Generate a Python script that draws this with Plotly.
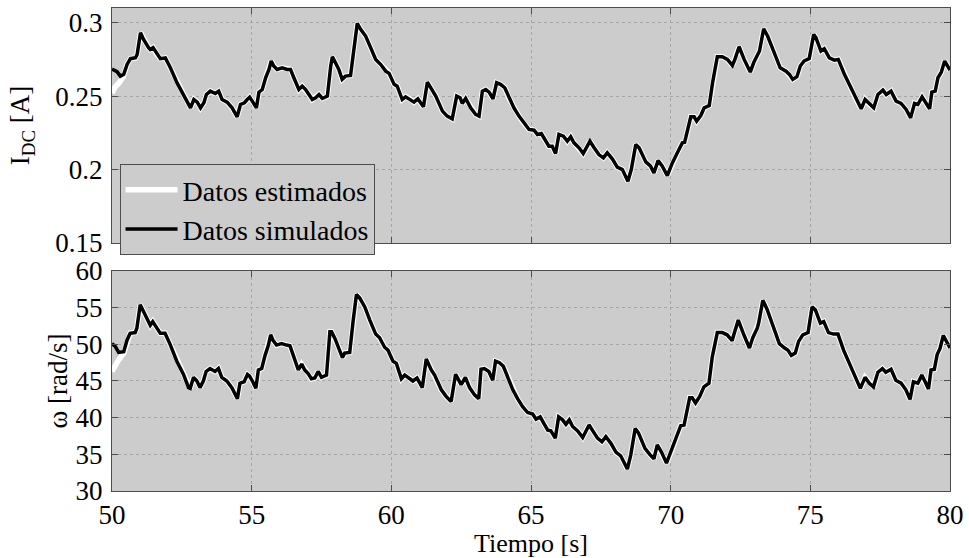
import plotly.graph_objects as go

# ---------------- data ----------------
# Top panel: DC current I_DC [A], simulated
t_top = [50.0, 50.18, 50.3, 50.42, 50.54, 50.66, 50.84, 50.9, 51.02, 51.13, 51.31, 51.37, 51.47, 51.61,
         51.73, 51.91, 52.09, 52.33, 52.57, 52.75, 52.81, 52.93, 53.05, 53.17, 53.29, 53.38, 53.52,
         53.7, 53.82, 53.94, 54.12, 54.3, 54.48, 54.6, 54.74, 54.84, 54.93, 55.02, 55.17, 55.26,
         55.38, 55.5, 55.62, 55.7, 55.79, 55.91, 56.09, 56.27, 56.39, 56.51, 56.69, 56.81, 56.93,
         57.05, 57.17, 57.29, 57.41, 57.53, 57.71, 57.83, 57.89, 58.0, 58.12, 58.24, 58.36, 58.54,
         58.66, 58.78, 58.9, 59.08, 59.26, 59.44, 59.62, 59.8, 59.92, 60.1, 60.21, 60.39, 60.51,
         60.69, 60.81, 60.95, 61.15, 61.29, 61.47, 61.59, 61.83, 62.0, 62.18, 62.34, 62.46, 62.54,
         62.66, 62.84, 63.02, 63.14, 63.26, 63.38, 63.5, 63.64, 63.77, 63.91, 64.06, 64.21, 64.39,
         64.57, 64.75, 64.93, 65.11, 65.23, 65.37, 65.53, 65.64, 65.76, 65.88, 66.0, 66.16, 66.3,
         66.42, 66.54, 66.72, 66.87, 66.99, 67.11, 67.26, 67.43, 67.59, 67.73, 67.91, 68.09, 68.27,
         68.47, 68.59, 68.75, 68.87, 69.11, 69.28, 69.4, 69.55, 69.7, 69.88, 70.06, 70.24, 70.42,
         70.5, 70.6, 70.72, 70.84, 70.93, 71.08, 71.2, 71.38, 71.5, 71.67, 71.85, 72.03, 72.21, 72.3,
         72.45, 72.63, 72.85, 72.97, 73.11, 73.18, 73.33, 73.47, 73.71, 73.92, 74.13, 74.25, 74.37,
         74.52, 74.64, 74.78, 74.96, 75.12, 75.2, 75.38, 75.5, 75.68, 75.86, 76.0, 76.22, 76.46,
         76.64, 76.82, 76.96, 77.12, 77.27, 77.42, 77.6, 77.72, 77.89, 78.07, 78.25, 78.43, 78.59,
         78.73, 78.85, 79.0, 79.15, 79.27, 79.35, 79.47, 79.57, 79.69, 79.81, 79.9, 80.0]
i_sim = [0.2685, 0.2667, 0.2636, 0.2648, 0.2716, 0.2755, 0.2761, 0.2784, 0.2932, 0.2886, 0.283, 0.2818,
         0.283, 0.2784, 0.2755, 0.276, 0.2693, 0.259, 0.25, 0.2436, 0.242, 0.2477, 0.2459, 0.242,
         0.2455, 0.2511, 0.2534, 0.2518, 0.2534, 0.2477, 0.2459, 0.242, 0.2359, 0.2443, 0.2455,
         0.2477, 0.2493, 0.2466, 0.242, 0.2527, 0.2545, 0.2625, 0.2682, 0.2739, 0.2705, 0.2682,
         0.2693, 0.2682, 0.2682, 0.2625, 0.2545, 0.2568, 0.2545, 0.2511, 0.2477, 0.2489, 0.2511,
         0.2484, 0.25, 0.2705, 0.2768, 0.2727, 0.2682, 0.2614, 0.2636, 0.2641, 0.2841, 0.2995,
         0.2955, 0.2909, 0.283, 0.275, 0.2715, 0.267, 0.2655, 0.258, 0.2568, 0.2477, 0.2495, 0.2477,
         0.2459, 0.2482, 0.2427, 0.2595, 0.2534, 0.25, 0.2398, 0.2364, 0.2345, 0.25, 0.2489, 0.245,
         0.2484, 0.242, 0.2375, 0.2364, 0.2534, 0.2545, 0.2527, 0.2482, 0.2591, 0.258, 0.2557,
         0.2489, 0.242, 0.2364, 0.2314, 0.2273, 0.2268, 0.2239, 0.2245, 0.2193, 0.2159, 0.2159,
         0.2109, 0.2239, 0.2227, 0.2193, 0.2223, 0.2182, 0.2148, 0.2109, 0.2148, 0.2193, 0.2148,
         0.2102, 0.208, 0.2114, 0.2073, 0.2016, 0.2, 0.192, 0.2, 0.217, 0.2148, 0.2052, 0.2023,
         0.1977, 0.2061, 0.2023, 0.1959, 0.2045, 0.2114, 0.2182, 0.2186, 0.2261, 0.2359, 0.2359,
         0.233, 0.2368, 0.242, 0.2436, 0.2591, 0.2768, 0.2768, 0.275, 0.2709, 0.275, 0.2836, 0.275,
         0.2664, 0.2727, 0.2773, 0.2807, 0.2959, 0.2909, 0.2795, 0.2693, 0.267, 0.2648, 0.2614,
         0.2632, 0.2705, 0.2739, 0.2755, 0.292, 0.2898, 0.2807, 0.2823, 0.2761, 0.2745, 0.275,
         0.2648, 0.255, 0.2477, 0.2414, 0.2477, 0.2443, 0.242, 0.2511, 0.2541, 0.2511, 0.2534,
         0.2466, 0.245, 0.2409, 0.2352, 0.245, 0.2443, 0.2495, 0.2455, 0.2414, 0.2527, 0.2534,
         0.2625, 0.2664, 0.2739, 0.2709, 0.2677]
# Estimated I_DC: start-up transient, then it lies on the simulated curve
t_top_est_start = [50.0, 50.1, 50.25, 50.4]
i_est_start = [0.252, 0.256, 0.259, 0.263]

# Bottom panel: angular speed omega [rad/s], simulated
t_bot = [50.0, 50.12, 50.24, 50.42, 50.54, 50.65, 50.83, 50.89, 51.01, 51.13, 51.31, 51.37, 51.46, 51.61,
         51.73, 51.9, 52.08, 52.32, 52.56, 52.74, 52.8, 52.92, 53.04, 53.15, 53.27, 53.37, 53.51,
         53.69, 53.81, 53.93, 54.11, 54.29, 54.49, 54.58, 54.73, 54.85, 54.92, 55.04, 55.15, 55.24,
         55.36, 55.48, 55.6, 55.68, 55.77, 55.89, 56.07, 56.25, 56.37, 56.49, 56.67, 56.79, 56.9,
         57.02, 57.14, 57.26, 57.38, 57.5, 57.68, 57.8, 57.86, 57.98, 58.1, 58.25, 58.33, 58.51,
         58.63, 58.75, 58.87, 59.05, 59.23, 59.44, 59.58, 59.76, 59.88, 60.06, 60.18, 60.36, 60.48,
         60.65, 60.77, 60.92, 61.11, 61.25, 61.43, 61.55, 61.79, 61.96, 62.14, 62.3, 62.42, 62.5,
         62.65, 62.8, 62.98, 63.13, 63.21, 63.33, 63.49, 63.63, 63.73, 63.87, 64.01, 64.17, 64.35,
         64.52, 64.7, 64.88, 65.06, 65.18, 65.33, 65.48, 65.6, 65.71, 65.87, 65.99, 66.13, 66.25,
         66.37, 66.49, 66.67, 66.85, 66.96, 67.08, 67.23, 67.38, 67.54, 67.68, 67.86, 68.04, 68.21,
         68.45, 68.57, 68.73, 68.85, 69.08, 69.25, 69.4, 69.52, 69.67, 69.85, 70.04, 70.18, 70.36,
         70.48, 70.56, 70.68, 70.77, 70.89, 71.04, 71.19, 71.37, 71.49, 71.67, 71.85, 72.02, 72.2,
         72.26, 72.42, 72.62, 72.82, 72.94, 73.1, 73.15, 73.3, 73.45, 73.69, 73.89, 74.08, 74.2,
         74.32, 74.46, 74.58, 74.73, 74.92, 75.06, 75.18, 75.36, 75.48, 75.65, 75.83, 75.99, 76.19,
         76.43, 76.61, 76.79, 76.96, 77.11, 77.26, 77.42, 77.58, 77.7, 77.89, 78.06, 78.25, 78.42,
         78.57, 78.69, 78.85, 78.99, 79.11, 79.23, 79.32, 79.44, 79.54, 79.64, 79.76, 79.88, 80.0]
w_sim = [50.1, 49.7, 48.9, 49.0, 50.6, 51.5, 51.6, 52.2, 55.4, 54.5, 53.1, 52.6, 53.1, 52.1, 51.5, 51.5,
         50.0, 47.7, 45.9, 44.1, 44.0, 45.5, 45.0, 44.1, 45.0, 46.3, 46.7, 46.3, 46.7, 45.5, 45.0,
         44.1, 42.6, 44.7, 44.9, 45.9, 45.7, 44.9, 44.0, 46.5, 46.7, 48.5, 49.9, 51.3, 50.5, 49.9,
         50.1, 49.9, 49.8, 48.5, 46.5, 47.3, 46.5, 46.0, 45.3, 45.4, 46.3, 45.5, 45.8, 51.7, 51.7,
         50.8, 49.7, 48.2, 48.8, 48.9, 53.1, 56.8, 56.3, 55.1, 53.3, 51.4, 50.9, 49.6, 49.2, 47.7,
         47.4, 45.3, 45.8, 45.3, 45.0, 45.4, 44.1, 48.0, 46.5, 45.8, 43.8, 42.9, 42.2, 45.9, 45.1,
         44.5, 45.5, 44.1, 43.1, 42.6, 46.6, 46.7, 46.3, 45.1, 47.7, 47.5, 47.0, 45.5, 43.8, 42.6,
         41.5, 40.7, 40.5, 39.8, 40.1, 39.1, 38.3, 38.2, 37.2, 40.1, 39.7, 39.1, 39.7, 38.8, 38.2,
         37.3, 38.1, 39.0, 38.1, 37.2, 36.7, 37.4, 36.5, 35.3, 34.8, 33.0, 34.9, 38.5, 37.9, 35.8,
         35.0, 34.4, 36.3, 35.3, 33.8, 35.6, 37.0, 38.9, 39.0, 40.6, 42.7, 42.7, 42.0, 42.9, 44.2,
         44.7, 48.3, 51.6, 51.6, 51.3, 50.5, 51.3, 53.3, 51.3, 49.5, 50.9, 52.2, 52.9, 56.0, 54.8,
         52.2, 50.1, 49.5, 49.2, 48.5, 48.8, 50.4, 51.3, 51.6, 55.1, 54.7, 52.9, 53.1, 51.6, 51.4,
         51.4, 49.2, 47.2, 45.5, 44.0, 45.5, 44.7, 44.2, 46.2, 46.7, 46.2, 46.6, 45.1, 44.7, 43.8,
         42.5, 44.9, 44.7, 45.8, 44.9, 43.9, 46.5, 46.6, 48.6, 49.4, 51.2, 50.4, 49.5]
# Estimated omega: start-up transient, then it lies on the simulated curve
t_bot_est_start = [50.0, 50.12, 50.24, 50.42]
w_est_start = [46.3, 47.2, 47.9, 48.8]

names = ["Datos estimados", "Datos simulados"]
x_ticks = [50, 55, 60, 65, 70, 75, 80]

# ---------------- figure ----------------
FONT = "Liberation Serif"
BG = "#cccccc"
FRAME = "#4d4d4d"
GRID = "#a6a6a6"

k0 = 4  # simulated points replaced by the estimator's start-up transient
t_top_est = t_top_est_start + t_top[k0:]
i_est = i_est_start + i_sim[k0:]
t_bot_est = t_bot_est_start + t_bot[k0:]
w_est = w_est_start + w_sim[k0:]

fig = go.Figure()
fig.add_trace(go.Scatter(x=t_top_est, y=i_est, mode="lines", name=names[0],
                         line=dict(color="white", width=5.5), xaxis="x", yaxis="y",
                         legendgroup="est"))
fig.add_trace(go.Scatter(x=t_top, y=i_sim, mode="lines", name=names[1],
                         line=dict(color="black", width=3.5), xaxis="x", yaxis="y",
                         legendgroup="sim"))
fig.add_trace(go.Scatter(x=t_bot_est, y=w_est, mode="lines", name=names[0],
                         line=dict(color="white", width=5.5), xaxis="x2", yaxis="y2",
                         showlegend=False, legendgroup="est"))
fig.add_trace(go.Scatter(x=t_bot, y=w_sim, mode="lines", name=names[1],
                         line=dict(color="black", width=3.5), xaxis="x2", yaxis="y2",
                         showlegend=False, legendgroup="sim"))

axis_common = dict(
    showline=True, linecolor=FRAME, linewidth=1, mirror="ticks",
    ticks="inside", ticklen=6, tickcolor=FRAME, tickwidth=1,
    showgrid=True, gridcolor=GRID, gridwidth=1, griddash="dot",
    zeroline=False, automargin=False,
    tickfont=dict(family=FONT, size=27, color="black"),
)

fig.update_layout(
    width=969, height=558,
    margin=dict(l=112, r=19, t=8, b=67, autoexpand=False),
    paper_bgcolor="white", plot_bgcolor=BG,
    font=dict(family=FONT, size=26, color="black"),
    showlegend=True,
    legend=dict(x=0.009, y=0.677, xanchor="left", yanchor="top",
                bgcolor=BG, bordercolor=FRAME, borderwidth=1,
                font=dict(family=FONT, size=28, color="black"),
                tracegroupgap=0, itemwidth=52),
    xaxis=dict(domain=[0, 1], anchor="y", range=[50, 80], tickvals=x_ticks,
               showticklabels=False, **axis_common),
    yaxis=dict(domain=[0.5135, 1], anchor="x", range=[0.15, 0.31],
               tickvals=[0.15, 0.2, 0.25, 0.3], ticktext=["0.15", "0.2", "0.25", "0.3"],
               ticklabelstandoff=3,
               title=dict(text="I<sub>DC</sub> [A]", font=dict(family=FONT, size=27), standoff=17),
               **axis_common),
    xaxis2=dict(domain=[0, 1], anchor="y2", range=[50, 80], tickvals=x_ticks,
                title=dict(text="Tiempo [s]", font=dict(family=FONT, size=26), standoff=2),
                **axis_common),
    yaxis2=dict(domain=[0, 0.4555], anchor="x2", range=[30, 60],
                tickvals=[30, 35, 40, 45, 50, 55, 60], ticklabelstandoff=3,
                title=dict(text="ω [rad/s]", font=dict(family=FONT, size=27), standoff=0),
                **axis_common),
)

fig.write_html("out.html")
